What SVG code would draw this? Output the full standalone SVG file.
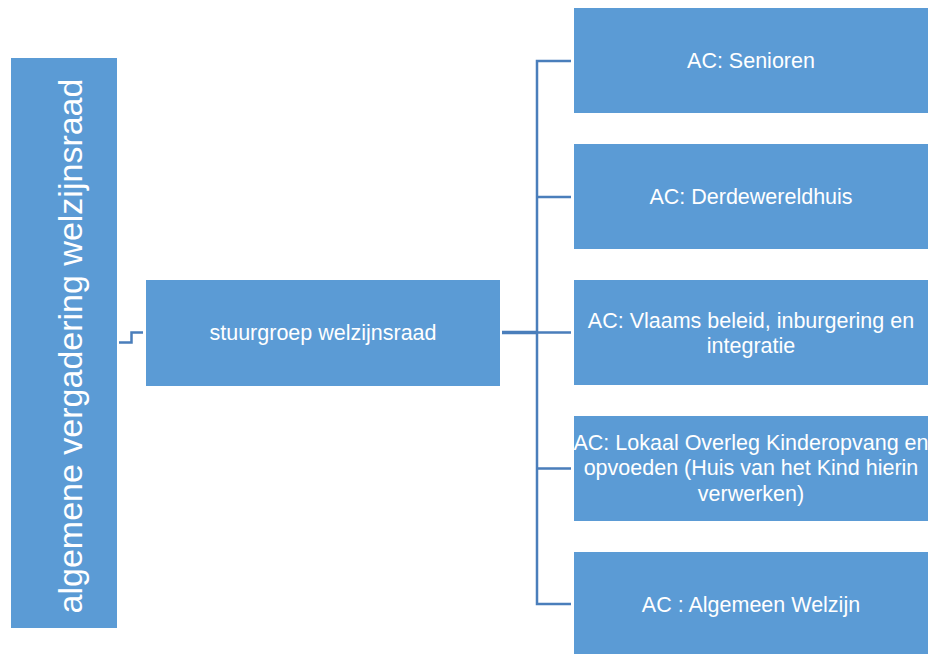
<svg xmlns="http://www.w3.org/2000/svg" width="929" height="654" viewBox="0 0 929 654">
<style>
.box{fill:#5B9BD5;}
.t{fill:#FFFFFF;font-family:"Liberation Sans",Arial,sans-serif;font-size:21.5px;text-anchor:middle;}
.big{font-size:34px;}
.c{fill:none;stroke:#4A7EBB;stroke-width:2.5;}
.c2{fill:none;stroke:#4A7EBB;stroke-width:3.5;}
</style>
<rect width="929" height="654" fill="#FFFFFF"/>
<g id="connectors">
<path class="c" d="M119,342.5 H131.5 V332.5 H143"/>
<path class="c2" d="M502,332.5 H537"/>
<path class="c" d="M571,61 H537 V604 H571 M537,197 H571 M537,332.5 H571 M537,468.5 H571"/>
</g>
<g id="n-algemene">
<rect class="box" x="11" y="58" width="106" height="570"/>
<text class="t big" transform="translate(82,346) rotate(-90)">algemene vergadering welzijnsraad</text>
</g>
<g id="n-stuurgroep">
<rect class="box" x="146" y="280" width="354" height="106"/>
<text class="t" x="323" y="340">stuurgroep welzijnsraad</text>
</g>
<g id="n-senioren">
<rect class="box" x="574" y="8" width="354" height="105"/>
<text class="t" x="751" y="68">AC: Senioren</text>
</g>
<g id="n-derdewereldhuis">
<rect class="box" x="574" y="144" width="354" height="105"/>
<text class="t" x="751" y="204">AC: Derdewereldhuis</text>
</g>
<g id="n-vlaams">
<rect class="box" x="574" y="280" width="354" height="105"/>
<text class="t" x="751" y="328">AC: Vlaams beleid, inburgering en</text>
<text class="t" x="751" y="353">integratie</text>
</g>
<g id="n-lokaal">
<rect class="box" x="574" y="416" width="354" height="105"/>
<text class="t" x="751" y="450">AC: Lokaal Overleg Kinderopvang en</text>
<text class="t" x="751" y="475">opvoeden (Huis van het Kind hierin</text>
<text class="t" x="751" y="501">verwerken)</text>
</g>
<g id="n-algemeen">
<rect class="box" x="574" y="552" width="354" height="105"/>
<text class="t" x="751" y="612">AC : Algemeen Welzijn</text>
</g>
</svg>
